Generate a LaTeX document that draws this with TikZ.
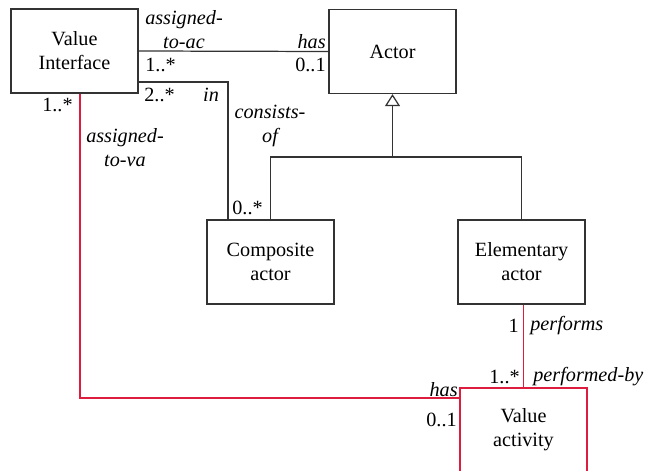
\documentclass[tikz,border=0pt]{standalone}
\usepackage{fontspec}
\setmainfont{Liberation Serif}
\usetikzlibrary{arrows.meta}
\definecolor{linkred}{RGB}{222,28,62}
\tikzset{
  umlbox/.style={draw=black!80,line width=0.7pt,minimum width=25.4mm,minimum height=16.8mm,
    align=center,font=\rmfamily\fontsize{11.5}{13.6}\selectfont},
  role/.style={font=\rmfamily\fontsize{11.5}{13.6}\selectfont\itshape,align=center,inner sep=0pt},
  mult/.style={font=\rmfamily\fontsize{11.5}{13.6}\selectfont,inner sep=0pt},
  assoc/.style={draw=black!80,line width=0.7pt},
  redassoc/.style={color=linkred,line width=1.1pt}
}
\begin{document}
\begin{tikzpicture}[x=0.2mm,y=-0.2mm]
\useasboundingbox (0,0) rectangle (648,470);
\node[umlbox] (vi) at (74.5,51) {Value\\Interface};
\node[umlbox] (actor) at (392.5,51.5) {Actor};
\node[umlbox] (comp) at (270.5,262) {Composite\\actor};
\node[umlbox] (elem) at (521.5,262) {Elementary\\actor};
\node[umlbox,draw=linkred] (va) at (523.5,430) {Value\\activity};
\coordinate (gen) at (392.5,157);
\coordinate (perf) at (523.5,304.5);
% associations
\draw[assoc] (vi.east) -- (actor.west);
\draw[assoc] ([yshift=-6.2mm]vi.east) -| ([xshift=-8.5mm]comp.north);
\draw[assoc,-{Triangle[open,width=3mm,length=2.4mm]}] (gen) -- (actor.south);
\draw[assoc] (comp.north) |- (gen) -| (elem.north);
\draw[redassoc] ([xshift=1.1mm]vi.south) |- ([yshift=-2.2mm]va.north west);
\draw[redassoc] (va.north) -- (perf);
% labels
\node[role] (l1) at (184,30) {assigned-\\to-ac};
\node[mult,anchor=west] (m1) at (145,65) {1..*};
\node[role,anchor=east] (l2) at (326,42) {has};
\node[mult,anchor=east] (m2) at (326,65) {0..1};
\node[mult,anchor=west] (m3) at (144,95) {2..*};
\node[role] (l3) at (211,95) {in};
\node[role] (l4) at (270,126) {consists-\\of};
\node[mult,anchor=east] (m4) at (73,105) {1..*};
\node[role] (l5) at (125,148) {assigned-\\to-va};
\node[mult,anchor=west] (m5) at (232,208) {0..*};
\node[mult,anchor=east] (m6) at (519,326) {1};
\node[role,anchor=west] (l6) at (530,326) {performs};
\node[mult,anchor=east] (m7) at (520,377) {1..*};
\node[role,anchor=west] (l7) at (533,377) {performed-by};
\node[role,anchor=east] (l8) at (458,390) {has};
\node[mult,anchor=east] (m8) at (457,420) {0..1};
\end{tikzpicture}
\end{document}
